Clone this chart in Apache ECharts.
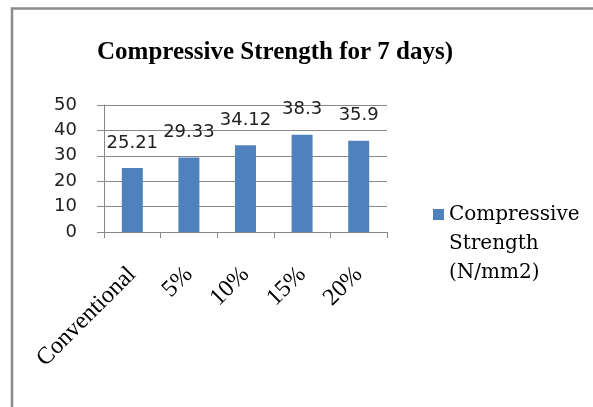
<!DOCTYPE html>
<html>
<head>
<meta charset="utf-8">
<script src="https://cdn.jsdelivr.net/npm/echarts@6/dist/echarts.min.js"></script>
<style>
html,body{margin:0;padding:0;background:#fff;}
#chart{width:593px;height:407px;}
</style>
</head>
<body>
<div id="chart"></div>
<script>
const categories = ['Conventional', '5%', '10%', '15%', '20%'];
const strengthValues = [25.21, 29.33, 34.12, 38.3, 35.9];
const seriesName = 'Compressive\nStrength\n(N/mm2)';
const titleText = 'Compressive Strength for 7 days)';

const chart = echarts.init(document.getElementById('chart'), null, {renderer: 'canvas'});
chart.setOption({
  animation: false,
  backgroundColor: '#fff',
  title: {
    text: titleText,
    left: 97,
    top: 40,
    padding: 0,
    textStyle: {fontFamily: 'Liberation Serif', fontWeight: 'bold', fontSize: 25, color: '#000'}
  },
  graphic: [{
    type: 'rect', silent: true, z: 100,
    shape: {x: 12, y: 8.5, width: 800, height: 600},
    style: {fill: 'none', stroke: '#8c8c8c', lineWidth: 2.5}
  }],
  legend: {
    orient: 'vertical',
    left: 433,
    top: 142,
    padding: 0,
    itemWidth: 11,
    itemHeight: 11,
    icon: 'rect',
    formatter: function (name) { return '\n\n' + name; },
    textStyle: {
      fontFamily: 'DejaVu Serif', fontSize: 20, color: '#000', lineHeight: 29
    },
    data: [seriesName]
  },
  grid: {left: 104, right: 206, top: 105, bottom: 175, containLabel: false},
  xAxis: {
    type: 'category',
    data: categories,
    axisLine: {show: true, lineStyle: {color: '#888', width: 1}},
    axisTick: {show: true, length: 6, lineStyle: {color: '#888'}},
    axisLabel: {
      rotate: 45, margin: 39, interval: 0,
      fontFamily: 'Liberation Serif', fontSize: 24, color: '#000'
    }
  },
  yAxis: {
    type: 'value',
    min: 0, max: 50, interval: 10,
    axisLine: {show: true, lineStyle: {color: '#888', width: 1}},
    axisTick: {show: true, length: 7, lineStyle: {color: '#888'}},
    splitLine: {show: true, lineStyle: {color: '#888', width: 1}},
    axisLabel: {margin: 27, fontFamily: 'DejaVu Sans', fontSize: 18, color: '#222'}
  },
  series: [{
    name: seriesName,
    type: 'bar',
    data: strengthValues,
    barWidth: 21,
    itemStyle: {color: '#4f81bd'},
    label: {
      show: true, position: 'top', distance: 16,
      fontFamily: 'DejaVu Sans', fontSize: 18, color: '#222'
    }
  }]
});
</script>
</body>
</html>
